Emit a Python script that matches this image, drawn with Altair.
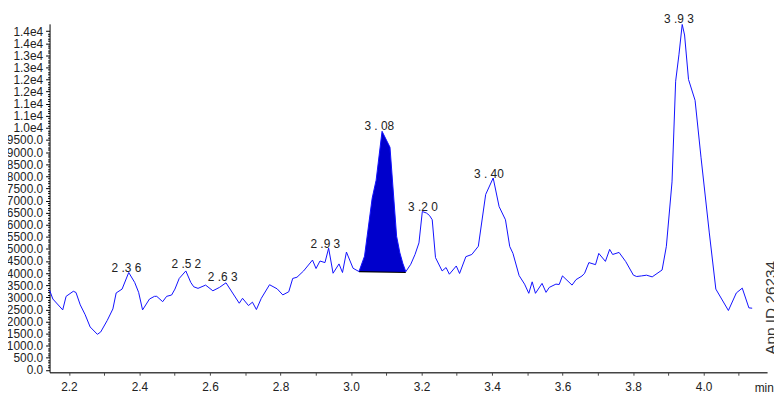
import altair as alt
import pandas as pd

# retention time (min) and detector signal
rt = [2.145, 2.1543, 2.1823, 2.1919, 2.2124, 2.2199, 2.232, 2.246, 2.2601, 2.2806,
      2.2901, 2.3086, 2.3246, 2.3339, 2.3507, 2.3695, 2.3864, 2.3976, 2.4088, 2.4285,
      2.4425, 2.449, 2.4658, 2.477, 2.4911, 2.5006, 2.5127, 2.5315, 2.5455, 2.5539,
      2.566, 2.5876, 2.6081, 2.6269, 2.6454, 2.6623, 2.683, 2.6923, 2.7091, 2.7204,
      2.7316, 2.7456, 2.7689, 2.7905, 2.8065, 2.8234, 2.8346, 2.8467, 2.8655, 2.8907,
      2.9008, 2.912, 2.9261, 2.9365, 2.9491, 2.9659, 2.9758, 2.987, 3.0058, 3.0226,
      3.0383, 3.0599, 3.0712, 3.088, 3.1105, 3.1293, 3.1385, 3.147, 3.1554, 3.1694,
      3.1815, 3.1927, 3.2022, 3.2143, 3.2227, 3.2303, 3.2396, 3.2584, 3.2696, 3.2789,
      3.2985, 3.3078, 3.3257, 3.3426, 3.3611, 3.3819, 3.4032, 3.42, 3.438, 3.4501,
      3.4593, 3.4767, 3.4922, 3.5042, 3.5138, 3.5231, 3.5418, 3.5531, 3.5623, 3.5811,
      3.5904, 3.5997, 3.6269, 3.6381, 3.655, 3.6625, 3.6746, 3.6934, 3.7027, 3.7215,
      3.7335, 3.742, 3.7602, 3.7792, 3.8009, 3.8102, 3.8242, 3.8382, 3.8542, 3.8823,
      3.8944, 3.9104, 3.9207, 3.93, 3.9393, 3.946, 3.9572, 3.9758, 3.9926, 4.0162,
      4.0347, 4.0703, 4.0928, 4.1096, 4.1284, 4.1377]
signal = [3300, 2930, 2480, 3040, 3250, 3200, 2690, 2280, 1775, 1470,
          1570, 2045, 2520, 3180, 3340, 4025, 3615, 3205, 2480, 2930,
          3040, 3040, 2820, 3040, 3095, 3340, 3780, 4090, 3615, 3435,
          3370, 3505, 3270, 3410, 3600, 3220, 2755, 2960, 2660, 2800,
          2495, 2960, 3520, 3350, 3100, 3230, 3780, 3830, 4090, 4540,
          4190, 4500, 4435, 5030, 3995, 4380, 4025, 4870, 4200, 4065,
          4700, 7090, 7840, 9860, 9200, 5520, 4840, 4400, 4060, 4365,
          4770, 5250, 6545, 6480, 6380, 6205, 4640, 4090, 4230, 3955,
          4295, 3985, 4680, 4770, 5110, 7250, 7930, 6750, 6205, 5100,
          4815, 3900, 3545, 3165, 3640, 3165, 3575, 3205, 3410, 3545,
          3530, 3885, 3505, 3730, 3880, 3995, 4435, 4350, 4815, 4485,
          4980, 4770, 4855, 4475, 3915, 3860, 3885, 3915, 3845, 4130,
          5110, 7770, 11930, 13020, 14275, 13840, 12000, 11140, 8790, 5660,
          3340, 2455, 3180, 3380, 2565, 2550]
assert len(rt) == len(signal)

# peak labels
label_text = ["2 .3 6", "2 .5 2", "2 .6 3", "2 .9 3", "3 . 08", "3 .2 0", "3 . 40", "3 .9 3"]
label_rt = [2.363, 2.533, 2.636, 2.927, 3.080, 3.204, 3.391, 3.930]
label_signal = [4025, 4160, 3615, 5006, 9885, 6544, 7910, 14315]

# integrated peak (filled)
fill_start = 3.0226
fill_end = 3.1554
fill_base_start = 4065
fill_base_end = 4025
fill_base = 4045

trace = pd.DataFrame({"rt": rt, "signal": signal})
peak_area = trace[(trace.rt >= fill_start) & (trace.rt <= fill_end)].copy()
peak_area["base"] = fill_base
baseline = pd.DataFrame({"x1": [fill_start], "x2": [fill_end],
                         "y1": [fill_base_start], "y2": [fill_base_end]})
labels = pd.DataFrame({"rt": label_rt, "signal": label_signal, "text": label_text})

FONT = "Liberation Sans"

x_scale = alt.Scale(domain=[2.145, 4.18], nice=False, zero=False)
y_scale = alt.Scale(domain=[-95, 14300], nice=False, zero=False)

x_ticks = [round(2.2 + 0.1 * i, 1) for i in range(20)]
y_ticks = list(range(0, 14001, 100))

x_axis = alt.Axis(
    values=x_ticks,
    labelExpr="round(datum.value*10) % 2 == 0 ? format(datum.value, '.1f') : ''",
    grid=False, domainColor="#444444", domainWidth=1.5,
    tickColor="#444444", tickSize=3, tickWidth=1,
    labelFont=FONT, labelFontSize=12, labelColor="#222222", labelPadding=6,
    labelFlush=False, labelOverlap=False,
    title="min", titleFont=FONT, titleFontSize=12, titleFontWeight="normal",
    titleColor="#222222", titleAlign="left", titleAnchor="start",
    titleX=712, titleY=15, titleBaseline="middle",
)
y_axis = alt.Axis(
    values=y_ticks,
    labelExpr="datum.value % 500 != 0 ? '' : (datum.value >= 10000 ? replace(format(datum.value, '.1e'), 'e+', 'e') : format(datum.value, '.1f'))",
    grid=False, domainColor="#000000", domainWidth=1,
    tickColor="#000000",
    tickSize={"condition": {"test": "datum.value % 500 === 0", "value": 4}, "value": 2},
    tickWidth=1,
    labelFont=FONT, labelFontSize=12, labelColor="#222222", labelPadding=3,
    labelFlush=False, labelOverlap=False, title=None,
)

area = alt.Chart(peak_area).mark_area(color="#0000CC", opacity=1, strokeWidth=0).encode(
    x=alt.X("rt:Q", scale=x_scale, axis=x_axis),
    y=alt.Y("signal:Q", scale=y_scale, axis=y_axis),
    y2="base:Q",
)

base_rule = alt.Chart(baseline).mark_rule(color="#000000", strokeWidth=1.2).encode(
    x=alt.X("x1:Q", scale=x_scale, axis=x_axis),
    x2="x2:Q",
    y=alt.Y("y1:Q", scale=y_scale, axis=y_axis),
    y2="y2:Q",
)

line = alt.Chart(trace).mark_line(color="#1010FF", strokeWidth=1, interpolate="linear").encode(
    x=alt.X("rt:Q", scale=x_scale, axis=x_axis),
    y=alt.Y("signal:Q", scale=y_scale, axis=y_axis),
    order="rt:Q",
)

text = alt.Chart(labels).mark_text(
    font=FONT, fontSize=12, color="#222222", align="center", baseline="alphabetic", dy=-1
).encode(
    x=alt.X("rt:Q", scale=x_scale, axis=x_axis),
    y=alt.Y("signal:Q", scale=y_scale, axis=y_axis),
    text="text:N",
)

app_id = alt.Chart(pd.DataFrame({"t": ["App ID 26234"]})).mark_text(
    font=FONT, fontSize=15.5, color="#333333", angle=270, align="center", baseline="top"
).encode(
    x=alt.value(722), y=alt.value(287), text="t:N",
)

chart = alt.layer(area, base_rule, line, text, app_id).properties(
    width=725, height=352,
    autosize=alt.AutoSizeParams(type="none"),
    padding={"left": 42, "top": 14, "right": 7, "bottom": 21},
    background="white",
).configure_view(strokeWidth=0)

chart.save("out.html", embed_options={"renderer": "svg", "actions": False})
